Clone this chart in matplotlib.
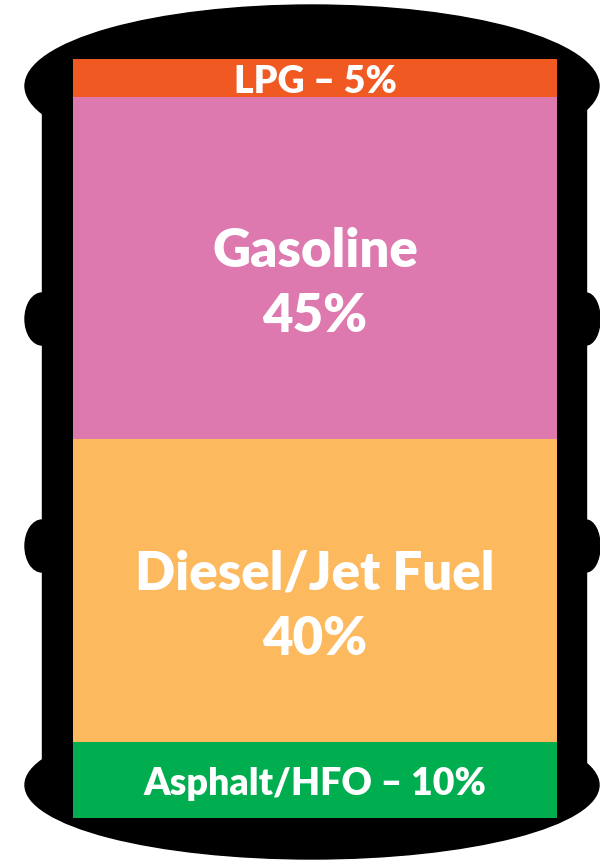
import matplotlib.pyplot as plt
from matplotlib.patches import Ellipse, Rectangle

# Productos del barril de crudo (de arriba hacia abajo)
productos = ['LPG', 'Gasoline', 'Diesel/Jet Fuel', 'Asphalt/HFO']
porcentajes = [5, 45, 40, 10]
colores = ['#F05A22', '#DD79AF', '#FDB95E', '#00AE50']

fig = plt.figure(figsize=(6, 8.62), dpi=100)

# --- Silueta del barril (coordenadas en pixeles) ---
ax_fondo = fig.add_axes([0, 0, 1, 1])
ax_fondo.set_xlim(0, 600)
ax_fondo.set_ylim(862, 0)
ax_fondo.axis('off')

negro = '#000000'
ax_fondo.add_patch(Rectangle((42, 87), 544, 700, color=negro))
ax_fondo.add_patch(Ellipse((312, 87), 574, 162, color=negro))
ax_fondo.add_patch(Ellipse((312, 786), 574, 148, color=negro))
for y in [320, 547]:
    ax_fondo.add_patch(Ellipse((42, y), 34, 52, color=negro))
    ax_fondo.add_patch(Ellipse((586, y), 28, 52, color=negro))

# --- Barra apilada ---
ax = fig.add_axes([73 / 600, 1 - 819 / 862, 484 / 600, 759 / 862])
ax.set_xlim(-0.5, 0.5)
ax.set_ylim(100, 0)
ax.axis('off')

base = 0
for nombre, pct, color in zip(productos, porcentajes, colores):
    ax.bar(0, pct, bottom=base, width=1.0, color=color, edgecolor='none')
    centro = base + pct / 2
    if pct >= 20:
        texto = f'{nombre}\n{pct}%'
        tam = 38
        desp = -11
    else:
        texto = f'{nombre} – {pct}%'
        tam = 27
        desp = -2
    ax.annotate(texto, (0, centro), xytext=(0, desp), textcoords='offset points',
                ha='center', va='center', color='white',
                fontsize=tam, fontweight='heavy', family=['Lato', 'DejaVu Sans'],
                linespacing=1.42)
    base += pct

fig.savefig('out.png', dpi=100)
